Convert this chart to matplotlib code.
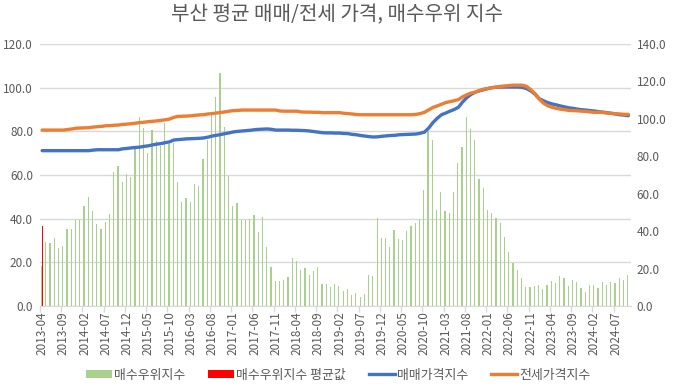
import matplotlib
matplotlib.use("Agg")
import matplotlib.pyplot as plt
from matplotlib.patches import Patch
from matplotlib.lines import Line2D
import numpy as np
import pandas as pd

plt.rcParams['font.family'] = ['Noto Sans CJK KR', 'DejaVu Sans']

title = "부산 평균 매매/전세 가격, 매수우위 지수"
months = pd.period_range("2013-04", "2024-10", freq="M").strftime("%Y-%m").tolist()

# 매수우위지수 (left axis)
buy_index = [
    18.5, 29.5, 29.0, 31.3, 26.7, 27.6, 35.4, 35.4, 39.5, 39.5,
    46.0, 50.1, 43.7, 37.7, 35.4, 38.6, 42.3, 61.5, 64.3, 56.9,
    60.6, 59.2, 71.9, 86.7, 81.5, 70.2, 80.8, 75.7, 73.4, 84.0,
    74.4, 74.8, 56.9, 47.8, 49.6, 47.8, 56.0, 55.1, 67.5, 76.2,
    87.6, 95.9, 106.9, 82.1, 59.7, 46.0, 47.3, 39.5, 39.5, 40.0,
    41.8, 34.0, 40.9, 27.2, 18.0, 11.6, 11.6, 12.1, 13.4, 22.1,
    20.8, 16.6, 17.6, 14.4, 16.2, 18.0, 10.2, 10.2, 8.9, 10.2,
    9.3, 7.0, 7.9, 5.2, 6.1, 4.3, 5.6, 14.4, 13.9, 40.5,
    31.3, 31.3, 27.2, 35.0, 30.8, 30.4, 34.5, 36.8, 38.2, 40.0,
    53.3, 80.3, 76.2, 44.1, 52.4, 43.7, 42.7, 52.4, 65.6, 73.0,
    86.7, 81.2, 76.2, 58.3, 54.2, 44.1, 42.7, 40.5, 38.2, 31.8,
    24.9, 19.8, 16.6, 13.0, 8.9, 8.9, 9.3, 9.8, 7.9, 9.8,
    11.6, 10.7, 13.9, 13.0, 9.3, 12.1, 11.1, 8.4, 6.6, 9.8,
    9.8, 8.4, 11.1, 9.8, 11.1, 10.7, 13.0, 12.1, 14.4,
]

# 매수우위지수 평균값 (only first category)
avg_month = ["2013-04"]
avg_value = [36.8]

# 매매가격지수 (right axis)
sale_price = [
    83.0, 83.0, 83.0, 83.0, 83.0, 83.0, 83.0, 83.0, 83.0, 83.0,
    83.0, 83.0, 83.3, 83.5, 83.5, 83.5, 83.5, 83.5, 83.5, 84.0,
    84.2, 84.5, 84.7, 84.9, 85.3, 85.6, 86.1, 86.5, 86.8, 87.3,
    87.7, 88.7, 88.9, 89.1, 89.3, 89.4, 89.5, 89.6, 89.8, 90.2,
    90.8, 91.2, 91.6, 92.1, 92.5, 93.0, 93.3, 93.5, 93.7, 93.9,
    94.2, 94.4, 94.5, 94.6, 94.4, 94.0, 94.0, 94.0, 94.0, 93.9,
    93.9, 93.8, 93.7, 93.5, 93.2, 92.9, 92.6, 92.5, 92.5, 92.4,
    92.4, 92.2, 92.1, 91.7, 91.5, 91.1, 90.8, 90.5, 90.3, 90.4,
    90.7, 90.9, 91.1, 91.2, 91.5, 91.6, 91.7, 91.8, 91.9, 92.3,
    92.9, 95.1, 98.0, 100.3, 102.2, 103.1, 104.1, 105.0, 106.2, 109.1,
    111.4, 113.1, 114.3, 115.0, 115.6, 116.2, 116.7, 116.9, 117.0, 117.0,
    117.0, 117.0, 117.0, 116.8, 116.2, 115.0, 113.2, 110.8, 109.7, 108.7,
    108.0, 107.5, 106.9, 106.4, 105.9, 105.6, 105.2, 104.9, 104.7, 104.4,
    104.2, 103.8, 103.6, 103.3, 102.9, 102.6, 102.2, 102.0, 101.7,
]

# 전세가격지수 (right axis)
jeonse_price = [
    94.0, 94.0, 94.0, 94.0, 94.0, 94.0, 94.3, 94.6, 95.0, 95.1,
    95.2, 95.3, 95.6, 95.8, 96.0, 96.3, 96.4, 96.6, 96.7, 97.0,
    97.2, 97.4, 97.7, 98.0, 98.2, 98.5, 98.7, 98.9, 99.2, 99.5,
    99.9, 100.8, 101.3, 101.4, 101.5, 101.6, 101.9, 102.1, 102.2, 102.6,
    102.8, 103.1, 103.4, 103.7, 104.1, 104.4, 104.5, 104.7, 104.7, 104.7,
    104.7, 104.7, 104.7, 104.7, 104.7, 104.7, 104.2, 104.1, 104.1, 104.1,
    104.1, 103.7, 103.6, 103.6, 103.5, 103.5, 103.3, 103.3, 103.3, 103.3,
    103.3, 103.0, 102.8, 102.6, 102.3, 102.2, 102.2, 102.2, 102.2, 102.2,
    102.2, 102.2, 102.2, 102.2, 102.2, 102.2, 102.2, 102.2, 102.4, 102.8,
    103.5, 104.8, 106.1, 106.9, 107.8, 108.7, 109.2, 109.7, 110.3, 111.8,
    112.9, 113.8, 114.3, 115.2, 115.9, 116.3, 116.7, 117.0, 117.4, 117.6,
    117.8, 118.0, 118.0, 118.0, 117.4, 115.7, 113.5, 110.6, 108.4, 107.0,
    106.2, 105.6, 105.2, 104.9, 104.5, 104.4, 104.3, 104.1, 104.0, 103.7,
    103.5, 103.5, 103.4, 103.1, 103.0, 102.7, 102.6, 102.4, 102.4,
]

left_ticks = [0, 20, 40, 60, 80, 100, 120]
right_ticks = [0, 20, 40, 60, 80, 100, 120, 140]

GREEN = "#A9D18E"
RED = "#FF0000"
BLUE = "#4472C4"
ORANGE = "#ED7D31"
TXT = "#595959"
GRID = "#D9D9D9"

fig = plt.figure(figsize=(6.73, 3.87), dpi=100)
ax = fig.add_axes([40 / 673, 81 / 387, 590.5 / 673, 262 / 387])
ax2 = ax.twinx()

x = np.arange(len(months))
bw = 0.29
ax.bar(x - bw / 2, buy_index, width=bw, color=GREEN, zorder=2)
avg_x = np.array([months.index(m) for m in avg_month])
ax.bar(avg_x + bw / 2, avg_value, width=bw, color=RED, zorder=2)

ax2.plot(x, sale_price, color=BLUE, lw=2.4, solid_capstyle="round", zorder=3)
ax2.plot(x, jeonse_price, color=ORANGE, lw=2.4, solid_capstyle="round", zorder=4)

ax.set_xlim(-0.5, len(months) - 0.5)
ax.set_ylim(0, 120)
ax2.set_ylim(0, 140)
ax.set_yticks(left_ticks)
ax.set_yticklabels([f"{v:.1f}" for v in left_ticks])
ax2.set_yticks(right_ticks)
ax2.set_yticklabels([f"{v:.1f}" for v in right_ticks])

ax.yaxis.grid(True, color=GRID, lw=1.0, zorder=0)
ax.set_axisbelow(True)

label_idx = list(range(0, len(months), 5))
ax.set_xticks(label_idx)
ax.set_xticklabels([months[i] for i in label_idx], rotation=90)
ax.set_xticks(np.arange(-0.5, len(months), 5), minor=True)
ax.tick_params(axis="x", which="major", length=0, pad=4, labelsize=8.5, colors=TXT)
ax.tick_params(axis="x", which="minor", length=4, color=GRID, width=1)
ax.tick_params(axis="y", length=0, labelsize=8.5, colors=TXT, pad=5)
ax2.tick_params(axis="y", length=0, labelsize=8.5, colors=TXT, pad=4.5)

for a in (ax, ax2):
    for s in ("top", "left", "right"):
        a.spines[s].set_visible(False)
    a.spines["bottom"].set_color(GRID)
ax2.spines["bottom"].set_visible(False)

fig.text(337 / 673, 1 - 15 / 387, title, ha="center", va="center",
         fontsize=14.5, color=TXT)

handles = [
    Patch(facecolor=GREEN, edgecolor="none"),
    Patch(facecolor=RED, edgecolor="none"),
    Line2D([], [], color=BLUE, lw=2.4),
    Line2D([], [], color=ORANGE, lw=2.4),
]
labels = ["매수우위지수", "매수우위지수 평균값", "매매가격지수", "전세가격지수"]
leg = fig.legend(handles, labels, loc="center", bbox_to_anchor=(338 / 673, 1 - 375 / 387),
                 ncol=4, frameon=False, fontsize=9.3, handlelength=2.0, handleheight=0.6,
                 handletextpad=0.15, columnspacing=1.8)
for t in leg.get_texts():
    t.set_color(TXT)

fig.savefig("out.png", dpi=100)
